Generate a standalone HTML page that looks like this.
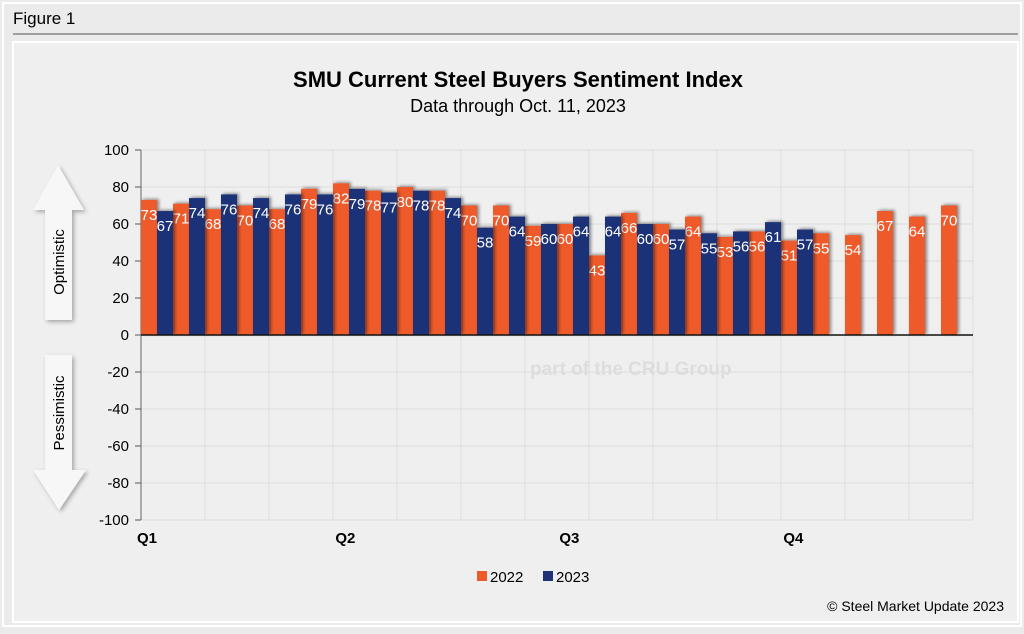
<!DOCTYPE html>
<html><head><meta charset="utf-8"><style>
body{margin:0;width:1024px;height:629px;background:#ebebeb;font-family:"Liberation Sans",Arial,sans-serif;overflow:hidden}
</style></head><body>
<svg width="1024" height="629" xmlns="http://www.w3.org/2000/svg">
<defs><filter id="sh" x="-30%" y="-10%" width="160%" height="130%"><feDropShadow dx="2" dy="-1" stdDeviation="1.5" flood-color="#000" flood-opacity="0.45"/></filter>
<filter id="as"><feDropShadow dx="2" dy="2" stdDeviation="2" flood-color="#000" flood-opacity="0.3"/></filter></defs>
<rect x="0" y="0" width="1024" height="629" fill="#ebebeb"/>
<rect x="3" y="3" width="1018" height="623" fill="none" stroke="#fff" stroke-width="2"/>
<text x="13" y="24" font-size="17" fill="#000">Figure 1</text>
<line x1="13" y1="34" x2="1018" y2="34" stroke="#555" stroke-width="1"/>
<rect x="13" y="42" width="1005" height="580" fill="#efefef" stroke="#fff" stroke-width="2"/>
<text x="518" y="87" font-size="22" font-weight="bold" text-anchor="middle">SMU Current Steel Buyers Sentiment Index</text>
<text x="518" y="112" font-size="18" text-anchor="middle">Data through Oct. 11, 2023</text>
<g filter="url(#as)">
<polygon points="58,165 84,210 72,210 72,320 45,320 45,210 33,210" fill="#f7f7f7"/>
</g>
<text transform="translate(64,262) rotate(-90)" font-size="15" text-anchor="middle">Optimistic</text>
<g filter="url(#as)">
<polygon points="45,355 72,355 72,470 86,470 59,510 33,470 45,470" fill="#f7f7f7"/>
</g>
<text transform="translate(64,413) rotate(-90)" font-size="15" text-anchor="middle">Pessimistic</text>
<g id="wm" opacity="0.07">
<text x="282" y="328" font-size="38" font-weight="bold" fill="#000">STEEL MARKET UPDATE</text>
<text x="530" y="375" font-size="19" fill="#000" font-weight="bold">part of the CRU Group</text>
</g>
<g id="chart"></g>
<g>
<rect x="477" y="571" width="10" height="10" fill="#ee5a2a"/>
<text x="490" y="582" font-size="15">2022</text>
<rect x="543" y="571" width="10" height="10" fill="#1f3278"/>
<text x="556" y="582" font-size="15">2023</text>
</g>
<text x="1004" y="611" font-size="14" text-anchor="end">© Steel Market Update 2023</text>
</svg>
<script>
const v2022=[73,71,68,70,68,79,82,78,80,78,70,70,59,60,43,66,60,64,53,56,51,55,54,67,64,70];
const v2023=[67,74,76,74,76,76,79,77,78,74,58,64,60,64,64,60,57,55,56,61,57];
const yTicks=[100,80,60,40,20,0,-20,-40,-60,-80,-100];
const quarters=["Q1","Q2","Q3","Q4"];
const quarterIdx=[0,6.2,13.2,20.2];
const X0=141,GW=32,BW=16,Y0=335,K=1.85;
const NS="http://www.w3.org/2000/svg";
const g=document.getElementById('chart');
function y(v){return Y0-v*K;}
function x(i){return X0+i*GW;}
function mk(t,a){const e=document.createElementNS(NS,t);for(const k in a)e.setAttribute(k,a[k]);g.appendChild(e);return e;}
yTicks.forEach(t=>{
 const l=mk('line',{x1:X0,x2:973,y1:y(t),y2:y(t),stroke:'#dcdcdc'});
 
 
 mk('line',{x1:X0-6,x2:X0,y1:y(t),y2:y(t),stroke:'#555'});
 const tx=mk('text',{x:X0-12,y:y(t)+5,'font-size':15,'text-anchor':'end'});tx.textContent=t;
 
 
});
for(let i=2;i<=26;i+=2){mk('line',{x1:x(i),x2:x(i),y1:y(100),y2:y(-100),stroke:'#dcdcdc'});}
mk('line',{x1:X0,x2:X0,y1:y(100),y2:y(-100),stroke:'#666'});
function bar(i,v,off,col,name){
 const r=mk('rect',{x:x(i)+off,y:Math.min(y(v),Y0),width:BW,height:Math.abs(v*K),fill:col,filter:'url(#sh)'});
 
 
 const t=mk('text',{x:x(i)+off+BW/2,y:y(v)+20,'font-size':15,'text-anchor':'middle',fill:'#fff'});t.textContent=v;
 
 
}
v2022.forEach((v,i)=>bar(i,v,0,'#ee5a2a','bar-2022'));
v2023.forEach((v,i)=>bar(i,v,BW,'#1f3278','bar-2023'));
mk('line',{x1:X0,x2:973,y1:Y0,y2:Y0,stroke:'#111','stroke-width':1.5});
quarters.forEach((q,j)=>{
 const t=mk('text',{x:x(quarterIdx[j])-4,y:543,'font-size':15,'font-weight':'bold'});t.textContent=q;
 
 
});
</script>
</body></html>
